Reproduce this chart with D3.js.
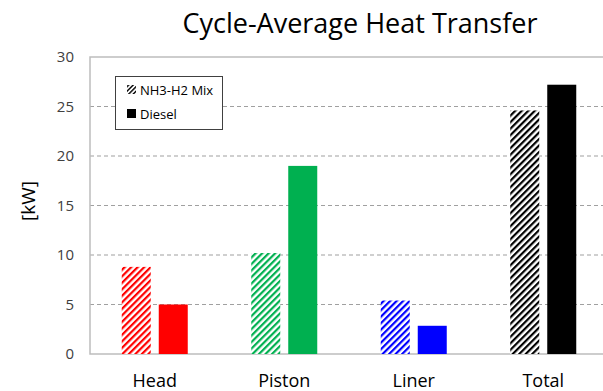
<!DOCTYPE html>
<html>
<head>
<meta charset="utf-8">
<script src="https://cdn.jsdelivr.net/npm/d3@7"></script>
<style>
  body { margin: 0; background: #fff; }
  svg { font-family: "Open Sans", "Noto Sans", sans-serif; }
</style>
</head>
<body>
<svg id="chart" width="603" height="391"></svg>
<script>
// chart values
const categories = ['Head', 'Piston', 'Liner', 'Total'];
const mixValues = [8.8, 10.2, 5.4, 24.6];
const dieselValues = [5.0, 19.0, 2.85, 27.2];
const barColors = ['#ff0000', '#00b050', '#0000ff', '#000000'];
const yTicks = [0, 5, 10, 15, 20, 25, 30];
const seriesNames = ['NH3-H2 Mix', 'Diesel'];

const svg = d3.select('#chart');

const margin = { top: 57, left: 90, bottom: 354, right: 608 };

const x = d3.scaleBand()
    .domain(categories)
    .range([margin.left, margin.right]);

const y = d3.scaleLinear()
    .domain([0, 30])
    .range([margin.bottom, margin.top]);

// hatch patterns, one per colour
const defs = svg.append('defs');
barColors.forEach((c, i) => {
    const p = defs.append('pattern')
        .attr('id', 'hatch' + i)
        .attr('patternUnits', 'userSpaceOnUse')
        .attr('width', 4.6)
        .attr('height', 4.6)
        .attr('patternTransform', 'rotate(45)');
    p.append('rect').attr('width', 4.6).attr('height', 4.6).attr('fill', '#fff');
    p.append('rect').attr('width', 2.2).attr('height', 4.6).attr('fill', c);
});

// grid lines
svg.append('g')
    .selectAll('line')
    .data(yTicks.filter(t => t > 0 && t < 30))
    .enter().append('line')
    .attr('x1', margin.left).attr('x2', 603)
    .attr('y1', d => y(d)).attr('y2', d => y(d))
    .attr('stroke', '#a0a0a0')
    .attr('stroke-width', 1.2)
    .attr('stroke-dasharray', '4,3');

// frame (left, top, bottom)
svg.append('path')
    .attr('d', `M603,${y(30)}H${margin.left}V${y(0)}H603`)
    .attr('fill', 'none')
    .attr('stroke', '#bdbdbd')
    .attr('stroke-width', 1.5);

// y axis labels
const yAxis = d3.axisLeft(y).tickValues(yTicks).tickSize(0).tickPadding(16);
const gy = svg.append('g')
    .attr('transform', `translate(${margin.left},0)`)
    .call(yAxis);
gy.select('.domain').remove();
gy.selectAll('text')
    .attr('font-size', 15)
    .attr('fill', '#404040')
    .attr('font-family', '"Open Sans", sans-serif');

// x axis labels
const xAxis = d3.axisBottom(x).tickSize(0).tickPadding(20);
const gx = svg.append('g')
    .attr('transform', `translate(0,${y(0)})`)
    .call(xAxis);
gx.select('.domain').remove();
gx.selectAll('text')
    .attr('font-size', 18)
    .attr('fill', '#000')
    .attr('font-family', '"Open Sans", sans-serif');

// bars
const barW = 29;
const offset = 18.5;

svg.append('g').selectAll('rect')
    .data(categories)
    .enter().append('rect')
    .attr('x', (d) => x(d) + x.bandwidth() / 2 - offset - barW / 2)
    .attr('width', barW)
    .attr('y', (d, i) => y(mixValues[i]))
    .attr('height', (d, i) => y(0) - y(mixValues[i]))
    .attr('fill', (d, i) => 'url(#hatch' + i + ')');

svg.append('g').selectAll('rect')
    .data(categories)
    .enter().append('rect')
    .attr('x', (d) => x(d) + x.bandwidth() / 2 + offset - barW / 2)
    .attr('width', barW)
    .attr('y', (d, i) => y(dieselValues[i]))
    .attr('height', (d, i) => y(0) - y(dieselValues[i]))
    .attr('fill', (d, i) => barColors[i]);

// title
svg.append('text')
    .attr('x', 360)
    .attr('y', 33)
    .attr('text-anchor', 'middle')
    .attr('font-size', 27)
    .attr('fill', '#000')
    .text('Cycle-Average Heat Transfer');

// y title
svg.append('text')
    .attr('transform', 'translate(35,201) rotate(-90)')
    .attr('text-anchor', 'middle')
    .attr('font-size', 19)
    .attr('fill', '#000')
    .text('[kW]');

// legend
const legend = svg.append('g');
legend.append('rect')
    .attr('x', 115.5).attr('y', 76.5)
    .attr('width', 107).attr('height', 53)
    .attr('fill', '#fff')
    .attr('stroke', '#404040')
    .attr('stroke-width', 1);

const legendDefs = defs.append('pattern')
    .attr('id', 'hatchLegend')
    .attr('patternUnits', 'userSpaceOnUse')
    .attr('width', 3.2).attr('height', 3.2)
    .attr('patternTransform', 'rotate(45)');
legendDefs.append('rect').attr('width', 3.2).attr('height', 3.2).attr('fill', '#fff');
legendDefs.append('rect').attr('width', 1.4).attr('height', 3.2).attr('fill', '#000');

seriesNames.forEach((name, i) => {
    const ly = 90 + i * 24;
    legend.append('rect')
        .attr('x', 127).attr('y', ly - 5)
        .attr('width', 9).attr('height', 9)
        .attr('fill', i === 0 ? 'url(#hatchLegend)' : '#000');
    legend.append('text')
        .attr('x', 140).attr('y', ly + 4.5)
        .attr('font-size', 13)
        .attr('fill', '#000')
        .text(name);
});
</script>
</body>
</html>
